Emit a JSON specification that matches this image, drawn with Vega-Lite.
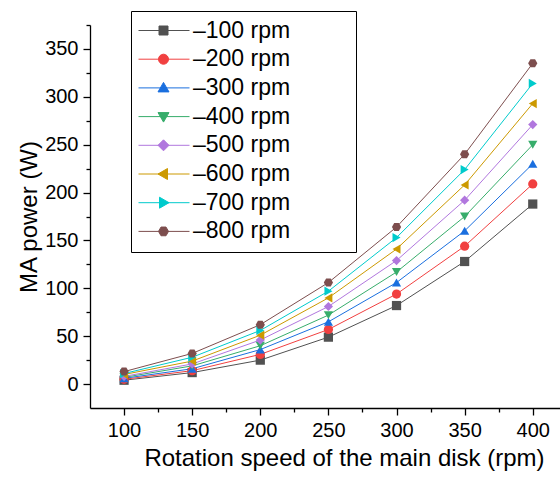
{
  "$schema": "https://vega.github.io/schema/vega-lite/v6.json",
  "width": 470,
  "height": 383,
  "autosize": {"type": "none"},
  "padding": {"left": 90, "top": 25, "right": 0, "bottom": 69},
  "background": "white",
  "config": {
    "view": {"stroke": null},
    "font": "Liberation Sans",
    "axis": {
      "domainColor": "black", "domainWidth": 1.3, "tickColor": "black", "tickWidth": 1.3,
      "grid": false, "labelFont": "Liberation Sans", "labelFontSize": 20, "labelColor": "black",
      "titleFont": "Liberation Sans", "titleFontSize": 24, "titleFontWeight": "normal", "titleColor": "black",
      "labelOverlap": false
    }
  },
  "data": {"values": [
    {"speed": 100, "series": "–100 rpm", "power": 4},
    {"speed": 150, "series": "–100 rpm", "power": 12},
    {"speed": 200, "series": "–100 rpm", "power": 25},
    {"speed": 250, "series": "–100 rpm", "power": 49},
    {"speed": 300, "series": "–100 rpm", "power": 82},
    {"speed": 350, "series": "–100 rpm", "power": 128},
    {"speed": 400, "series": "–100 rpm", "power": 188},
    {"speed": 100, "series": "–200 rpm", "power": 5},
    {"speed": 150, "series": "–200 rpm", "power": 14},
    {"speed": 200, "series": "–200 rpm", "power": 31},
    {"speed": 250, "series": "–200 rpm", "power": 57},
    {"speed": 300, "series": "–200 rpm", "power": 94},
    {"speed": 350, "series": "–200 rpm", "power": 144},
    {"speed": 400, "series": "–200 rpm", "power": 209},
    {"speed": 100, "series": "–300 rpm", "power": 6},
    {"speed": 150, "series": "–300 rpm", "power": 16},
    {"speed": 200, "series": "–300 rpm", "power": 36},
    {"speed": 250, "series": "–300 rpm", "power": 65},
    {"speed": 300, "series": "–300 rpm", "power": 106},
    {"speed": 350, "series": "–300 rpm", "power": 160},
    {"speed": 400, "series": "–300 rpm", "power": 230},
    {"speed": 100, "series": "–400 rpm", "power": 7},
    {"speed": 150, "series": "–400 rpm", "power": 19},
    {"speed": 200, "series": "–400 rpm", "power": 40},
    {"speed": 250, "series": "–400 rpm", "power": 72},
    {"speed": 300, "series": "–400 rpm", "power": 117},
    {"speed": 350, "series": "–400 rpm", "power": 175},
    {"speed": 400, "series": "–400 rpm", "power": 250},
    {"speed": 100, "series": "–500 rpm", "power": 8},
    {"speed": 150, "series": "–500 rpm", "power": 21},
    {"speed": 200, "series": "–500 rpm", "power": 46},
    {"speed": 250, "series": "–500 rpm", "power": 81},
    {"speed": 300, "series": "–500 rpm", "power": 129},
    {"speed": 350, "series": "–500 rpm", "power": 192},
    {"speed": 400, "series": "–500 rpm", "power": 271},
    {"speed": 100, "series": "–600 rpm", "power": 10},
    {"speed": 150, "series": "–600 rpm", "power": 24},
    {"speed": 200, "series": "–600 rpm", "power": 51},
    {"speed": 250, "series": "–600 rpm", "power": 90},
    {"speed": 300, "series": "–600 rpm", "power": 141},
    {"speed": 350, "series": "–600 rpm", "power": 208},
    {"speed": 400, "series": "–600 rpm", "power": 293},
    {"speed": 100, "series": "–700 rpm", "power": 11},
    {"speed": 150, "series": "–700 rpm", "power": 28},
    {"speed": 200, "series": "–700 rpm", "power": 56},
    {"speed": 250, "series": "–700 rpm", "power": 97},
    {"speed": 300, "series": "–700 rpm", "power": 153},
    {"speed": 350, "series": "–700 rpm", "power": 224},
    {"speed": 400, "series": "–700 rpm", "power": 314},
    {"speed": 100, "series": "–800 rpm", "power": 13},
    {"speed": 150, "series": "–800 rpm", "power": 32},
    {"speed": 200, "series": "–800 rpm", "power": 62},
    {"speed": 250, "series": "–800 rpm", "power": 106},
    {"speed": 300, "series": "–800 rpm", "power": 164},
    {"speed": 350, "series": "–800 rpm", "power": 240},
    {"speed": 400, "series": "–800 rpm", "power": 335}
  ]},
  "encoding": {
    "x": {
      "field": "speed", "type": "quantitative",
      "scale": {"domain": [75, 420], "nice": false, "zero": false},
      "axis": {
        "title": "Rotation speed of the main disk (rpm)",
        "values": [100, 125, 150, 175, 200, 225, 250, 275, 300, 325, 350, 375, 400],
        "labelExpr": "datum.value % 50 === 0 ? datum.label : ''",
        "tickSize": {"condition": {"test": "datum.value % 50 !== 0", "value": 4}, "value": 7},
        "labelPadding": 5, "labelFlush": false, "titlePadding": 6, "titleX": 254
      }
    },
    "y": {
      "field": "power", "type": "quantitative",
      "scale": {"domain": [-25, 375], "nice": false, "zero": false},
      "axis": {
        "title": "MA power (W)",
        "values": [0, 25, 50, 75, 100, 125, 150, 175, 200, 225, 250, 275, 300, 325, 350, 375],
        "labelExpr": "datum.value % 50 === 0 ? datum.label : ''",
        "tickSize": {"condition": {"test": "datum.value % 50 !== 0", "value": 4}, "value": 7},
        "labelPadding": 5, "labelFlush": false, "titlePadding": 3
      }
    },
    "color": {
      "field": "series", "type": "nominal",
      "scale": {"range": ["#515151", "#F14040", "#1A6FDF", "#37AD6B", "#B177DE", "#CC9900", "#00CBCC", "#7D4E4E"]},
      "legend": {
        "title": null, "orient": "none", "legendX": 41, "legendY": -14,
        "strokeColor": "black", "fillColor": "white", "padding": 8,
        "labelFont": "Liberation Sans", "labelFontSize": 23, "labelColor": "black",
        "labelOffset": 31, "symbolSize": 100, "rowPadding": 4.7, "labelLimit": 400,
        "labelExpr": "datum.label + ' \u2800\u2800\u2800'",
        "encode": {"symbols": {"update": {
          "shape": {"signal": "{'–100 rpm': 'M-2.4,0H7.8M1.7,-0.9H3.5V0.9H1.7Z', '–200 rpm': 'M-2.4,0H7.8M1.6,0A1,1 0 1,0 3.6,0A1,1 0 1,0 1.6,0Z', '–300 rpm': 'M-2.4,0H7.8M2.6,-1.1L3.7,0.8L1.5,0.8Z', '–400 rpm': 'M-2.4,0H7.8M2.6,1.1L3.7,-0.8L1.5,-0.8Z', '–500 rpm': 'M-2.4,0H7.8M2.6,-1.1L3.7,0L2.6,1.1L1.5,0Z', '–600 rpm': 'M-2.4,0H7.8M1.5,0L3.4,-1.1L3.4,1.1Z', '–700 rpm': 'M-2.4,0H7.8M3.7,0L1.8,-1.1L1.8,1.1Z', '–800 rpm': 'M-2.4,0H7.8M3.6,0L3.1,0.87L2.1,0.87L1.6,0L2.1,-0.87L3.1,-0.87Z'}[datum.value]"},
          "stroke": {"signal": "scale('color', datum.value)"},
          "fill": {"signal": "scale('color', datum.value)"},
          "strokeWidth": {"value": 1},
          "size": {"value": 100},
          "opacity": {"value": 1}
        }}}
      }
    }
  },
  "layer": [
    {"mark": {"type": "line", "strokeWidth": 1}},
    {
      "mark": {"type": "point", "filled": true, "size": 85, "opacity": 1},
      "encoding": {
        "shape": {
          "field": "series", "type": "nominal", "legend": null,
          "scale": {"range": ["square", "circle", "triangle-up", "triangle-down", "diamond", "triangle-left", "triangle-right", "M1,0L0.5,0.866L-0.5,0.866L-1,0L-0.5,-0.866L0.5,-0.866Z"]}
        }
      }
    }
  ]
}
